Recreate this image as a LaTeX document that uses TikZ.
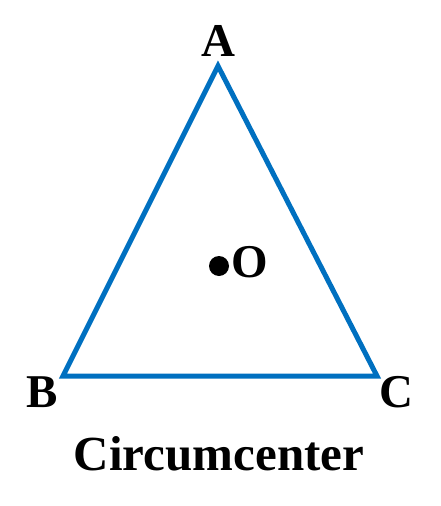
\documentclass[tikz,border=0pt]{standalone}
\usepackage{fontspec}
\setmainfont{Liberation Serif}
\definecolor{triblue}{RGB}{0,112,192}
\begin{document}
\begin{tikzpicture}[x=1pt,y=-1pt,
  lbl/.style={inner sep=0pt,anchor=base,font=\bfseries\fontsize{47}{47}\selectfont},
  side/.style={draw=triblue,line width=5pt,line join=miter}]
\useasboundingbox (0,0) rectangle (440,506);
\coordinate (A) at (218,66);
\coordinate (B) at (63,376);
\coordinate (C) at (377,376);
\draw[side] (A) -- (B) -- (C) -- cycle;
\node[lbl] (la) at (218,56) {A};
\node[lbl] (lb) at (42,407) {B};
\node[lbl] (lc) at (396,407) {C};
\fill (219,266) circle (10);
\node[lbl] (lo) at (250,277) {O};
\node[lbl,font=\bfseries\fontsize{49}{49}\selectfont] (title) at (219,470) {Circumcenter};
\end{tikzpicture}
\end{document}
